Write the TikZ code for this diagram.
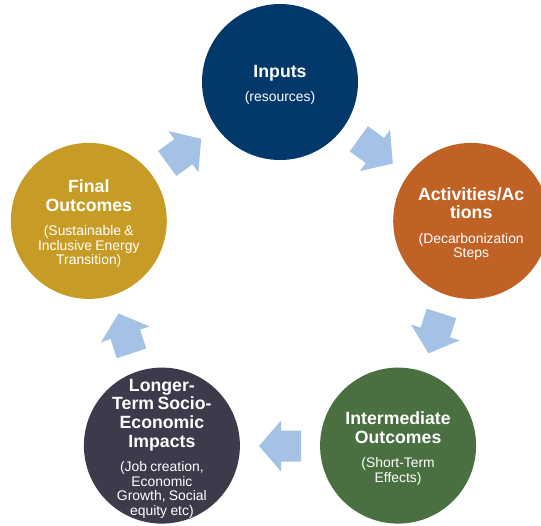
\documentclass[tikz,border=0pt]{standalone}
\usepackage{fontspec}
\setmainfont{Liberation Sans}
\definecolor{inputblue}{RGB}{3,56,106}
\definecolor{actorange}{RGB}{192,98,38}
\definecolor{midgreen}{RGB}{74,112,66}
\definecolor{longslate}{RGB}{61,58,75}
\definecolor{finalgold}{RGB}{198,156,38}
\definecolor{flowblue}{RGB}{164,194,230}
% title lines in bold, the description in regular weight below
\newcommand\stagetext[2]{%
  {\fontsize{17.7}{18.6}\selectfont\bfseries #1\par}%
  \vspace{10pt}%
  {\fontsize{13.9}{14.5}\selectfont #2\par}}
\tikzset{
  stage/.style={circle, minimum size=156pt, inner sep=0pt},
  stagelabel/.style={text=white, text width=150pt, align=center, inner sep=0pt},
  flowarrow/.style={fill=flowblue, draw=none},
}
% block arrow drawn along +x around the origin of the current frame
\newcommand\blockarrow{%
  \fill[flowarrow] (-21,-15.5) -- (-1,-15.5) -- (-1,-25.5) -- (21,0)
    -- (-1,25.5) -- (-1,15.5) -- (-21,15.5) -- cycle;}
\begin{document}
\begin{tikzpicture}[x=1pt, y=-1pt]
  \useasboundingbox (0,0) rectangle (541,525);
  \clip (0,0) rectangle (541,525);

  % five stages on a regular pentagon
  \node[stage, fill=inputblue] (inputs) at (280,82) {};
  \node[stage, fill=actorange] (activities) at (471.2,220.9) {};
  \node[stage, fill=midgreen] (intermediate) at (398.1,445.6) {};
  \node[stage, fill=longslate] (longterm) at (161.9,445.6) {};
  \node[stage, fill=finalgold] (final) at (88.8,220.9) {};

  % their labels, set a little below each centre
  \node[stagelabel] (inputs-label) at ([yshift=-3pt]inputs.center)
    {\stagetext{Inputs}{(resources)}};
  \node[stagelabel] (activities-label) at ([yshift=-3pt]activities.center)
    {\stagetext{Activities/Ac\\tions}{(Decarbonization\\Steps}};
  \node[stagelabel] (intermediate-label) at ([yshift=-3pt]intermediate.center)
    {\stagetext{Intermediate\\Outcomes}{(Short-Term\\Effects)}};
  \node[stagelabel] (longterm-label) at ([yshift=-3pt]longterm.center)
    {\stagetext{Longer-\\Term Socio-\\Economic\\Impacts}{(Job creation,\\Economic\\Growth, Social\\equity etc)}};
  \node[stagelabel] (final-label) at ([yshift=-3pt]final.center)
    {\stagetext{Final\\Outcomes}{(Sustainable \&\\Inclusive Energy\\Transition)}};

  % block arrows between consecutive stages, running clockwise
  \begin{scope}[shift={(184.2,151.1)}, rotate=36]\blockarrow\end{scope}
  \begin{scope}[shift={(375.8,151.1)}, rotate=-36]\blockarrow\end{scope}
  \begin{scope}[shift={(435.0,333.4)}, rotate=-108]\blockarrow\end{scope}
  \begin{scope}[shift={(280,446)}, rotate=180]\blockarrow\end{scope}
  \begin{scope}[shift={(125.0,333.4)}, rotate=108]\blockarrow\end{scope}
\end{tikzpicture}
\end{document}
